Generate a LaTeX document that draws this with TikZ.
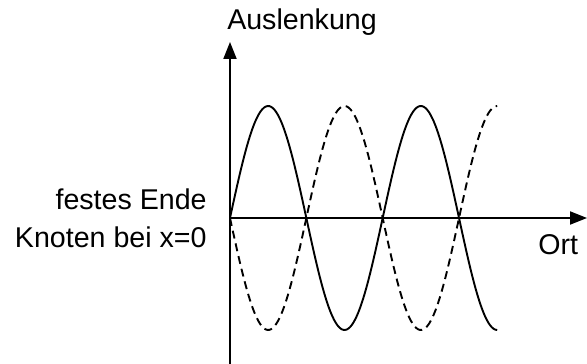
\documentclass[tikz,border=0pt]{standalone}
\usepackage{fontspec}
\setmainfont{Liberation Sans}
\usetikzlibrary{arrows.meta}
\begin{document}
\begin{tikzpicture}[x=0.5pt, y=0.5pt,
  every node/.style={font=\fontsize{14.3}{19}\selectfont, inner sep=0pt},
  axis/.style={line width=1pt, -{Triangle[length=8.5pt,width=6.5pt]}},
  wave/.style={line width=0.95pt, smooth, samples=150, domain=0:3.5*pi}]
\useasboundingbox (-230,-145) rectangle (357,218);

\def\amp{112}
\def\kx{24.3}

%% Axes
\coordinate (O) at (0,0);
\coordinate (ybot) at (0,-146);
\coordinate (ytop) at (0,176);
\coordinate (xend) at (357,0);
\draw[axis] (ybot) -- (ytop);
\draw[axis] (O) -- (xend);

%% Waves: solid and reflected (dashed)
\draw[wave] plot ({\kx*\x}, {\amp*sin(\x r)});
\draw[wave, dash pattern=on 4pt off 2.5pt] plot ({\kx*\x}, {-\amp*sin(\x r)});

%% Labels
\node[anchor=base] (ylab) at (72,188) {Auslenkung};
\node[anchor=base east] (fest) at (-23,8) {festes Ende};
\node[anchor=base east] (knoten) at (-23,-30) {Knoten bei x=0};
\node[anchor=base west] (ort) at (308,-37) {Ort};

\end{tikzpicture}
\end{document}
